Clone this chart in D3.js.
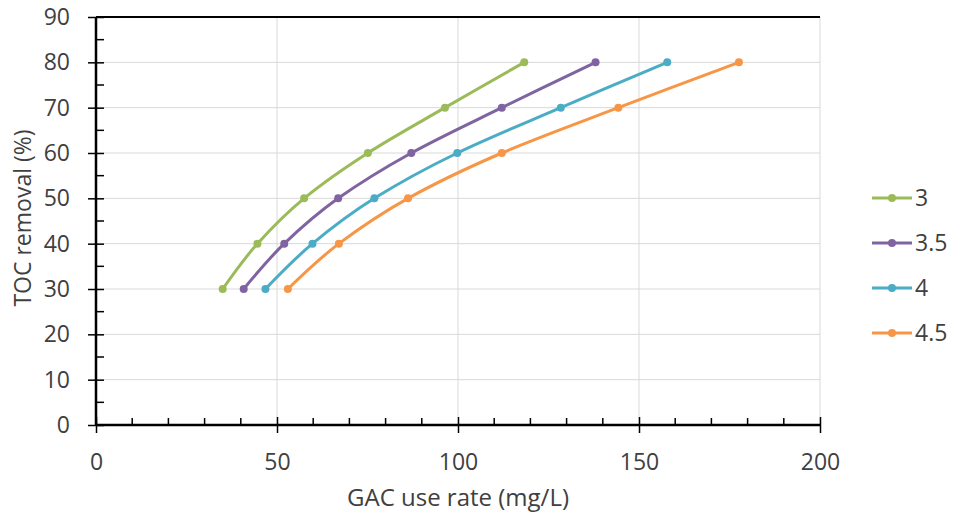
<!DOCTYPE html>
<html>
<head>
<meta charset="utf-8">
<script src="https://cdn.jsdelivr.net/npm/d3@7"></script>
<style>
  body { margin: 0; background: #fff; }
  text { font-family: "Open Sans", sans-serif; fill: #404040; }
</style>
</head>
<body>
<div id="chart"></div>
<script>
/* DATA */
const removal = [30, 40, 50, 60, 70, 80]; // TOC removal (%)
const rate3 = [35.0, 44.6, 57.5, 75.1, 96.4, 118.3];
const rate35 = [40.8, 52.0, 66.9, 87.1, 112.1, 138.0];
const rate4 = [46.8, 59.8, 76.9, 99.8, 128.4, 157.8];
const rate45 = [53.0, 67.1, 86.2, 112.1, 144.3, 177.6];
const seriesNames = ["3", "3.5", "4", "4.5"];
const xTicks = [0, 50, 100, 150, 200];
const yTicks = [0, 10, 20, 30, 40, 50, 60, 70, 80, 90];

const colors = ["#9BBB59", "#8064A2", "#4BACC6", "#F79646"];
const series = [rate3, rate35, rate4, rate45].map((vals, i) => ({
  name: seriesNames[i],
  color: colors[i],
  points: vals.map((x, j) => ({ x, y: removal[j] })),
}));

/* LAYOUT */
const width = 953, height = 516;
const margin = { top: 17, right: 133, bottom: 91, left: 96 };

const svg = d3.select("#chart").append("svg")
  .attr("width", width)
  .attr("height", height);

const xScale = d3.scaleLinear().domain([0, 200]).range([margin.left, width - margin.right]);
const yScale = d3.scaleLinear().domain([0, 90]).range([height - margin.bottom, margin.top]);

// gridlines
svg.append("g")
  .selectAll("line")
  .data(yTicks.slice(1))
  .join("line")
  .attr("x1", xScale(0)).attr("x2", xScale(200))
  .attr("y1", d => yScale(d)).attr("y2", d => yScale(d))
  .attr("stroke", "#d9d9d9");
svg.append("g")
  .selectAll("line")
  .data(xTicks.slice(1))
  .join("line")
  .attr("x1", d => xScale(d)).attr("x2", d => xScale(d))
  .attr("y1", yScale(0)).attr("y2", yScale(90))
  .attr("stroke", "#d9d9d9");

// top border
svg.append("line")
  .attr("x1", xScale(0)).attr("x2", xScale(200))
  .attr("y1", yScale(90)).attr("y2", yScale(90))
  .attr("stroke", "#000").attr("stroke-width", 2);

// minor ticks (inside)
const yMinor = d3.range(5, 90, 10);
const xMinor = d3.range(10, 200, 10).filter(d => d % 50 !== 0);
svg.append("g")
  .selectAll("line")
  .data(yMinor)
  .join("line")
  .attr("x1", xScale(0)).attr("x2", xScale(0) + 8)
  .attr("y1", d => yScale(d)).attr("y2", d => yScale(d))
  .attr("stroke", "#000").attr("stroke-width", 1.5);
svg.append("g")
  .selectAll("line")
  .data(xMinor)
  .join("line")
  .attr("x1", d => xScale(d)).attr("x2", d => xScale(d))
  .attr("y1", yScale(0)).attr("y2", yScale(0) - 7)
  .attr("stroke", "#000").attr("stroke-width", 1.5);

// axes
const xAxis = d3.axisBottom(xScale).tickValues(xTicks).tickSize(8).tickPadding(21);
const yAxis = d3.axisLeft(yScale).tickValues(yTicks).tickSize(8).tickPadding(18);

const gx = svg.append("g")
  .attr("transform", `translate(0,${yScale(0)})`)
  .call(xAxis);
const gy = svg.append("g")
  .attr("transform", `translate(${xScale(0)},0)`)
  .call(yAxis);

[gx, gy].forEach(g => {
  g.select(".domain").attr("stroke", "#000").attr("stroke-width", 2.5);
  g.selectAll(".tick line").attr("stroke", "#000").attr("stroke-width", 1.5);
  g.selectAll(".tick text")
    .attr("font-size", 23)
    .attr("font-family", "'Open Sans', sans-serif")
    .attr("fill", "#404040");
});
// major ticks cross the axis
gx.selectAll(".tick line").attr("y1", -8);
gy.selectAll(".tick line").attr("x1", 8);
gx.select(".domain").attr("d", `M${xScale(0)},0H${xScale(200)}`);
gy.select(".domain").attr("d", `M0,${yScale(0)}V${yScale(90)}`);

// axis labels
svg.append("text")
  .attr("x", (xScale(0) + xScale(200)) / 2)
  .attr("y", 506)
  .attr("text-anchor", "middle")
  .attr("font-size", 24)
  .text("GAC use rate (mg/L)");

svg.append("text")
  .attr("transform", "translate(31,218) rotate(-90)")
  .attr("text-anchor", "middle")
  .attr("font-size", 23)
  .text("TOC removal (%)");

// lines
const lineFunc = d3.line()
  .x(d => xScale(d.x))
  .y(d => yScale(d.y))
  .curve(d3.curveCardinal.tension(0));

const groups = svg.append("g")
  .selectAll("g")
  .data(series)
  .join("g");

groups.append("path")
  .attr("d", d => lineFunc(d.points))
  .attr("fill", "none")
  .attr("stroke", d => d.color)
  .attr("stroke-width", 3);

groups.selectAll("circle")
  .data(d => d.points.map(p => ({ ...p, color: d.color })))
  .join("circle")
  .attr("cx", d => xScale(d.x))
  .attr("cy", d => yScale(d.y))
  .attr("r", 4)
  .attr("fill", d => d.color);

// legend
const legend = svg.append("g")
  .selectAll("g")
  .data(series)
  .join("g")
  .attr("transform", (d, i) => `translate(872,${198 + i * 45})`);

legend.append("line")
  .attr("x1", 0).attr("x2", 40)
  .attr("stroke", d => d.color)
  .attr("stroke-width", 3);
legend.append("circle")
  .attr("cx", 20).attr("r", 4)
  .attr("fill", d => d.color);
legend.append("text")
  .attr("x", 43)
  .attr("dy", "0.35em")
  .attr("font-size", 23)
  .text(d => d.name);
</script>
</body>
</html>
